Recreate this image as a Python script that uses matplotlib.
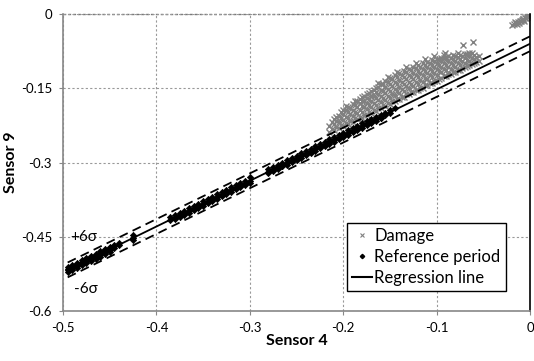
import matplotlib.pyplot as plt
from matplotlib.lines import Line2D

plt.rcParams['font.family'] = ['Lato', 'DejaVu Sans']

# damage points, read column by column (x, list of y)
dmg_cols_x = [-0.215, -0.21, -0.205, -0.20, -0.195, -0.19, -0.185, -0.18, -0.175, -0.17,
              -0.165, -0.16, -0.155, -0.15, -0.145, -0.14, -0.135, -0.13, -0.125, -0.12,
              -0.115, -0.11, -0.105, -0.10, -0.095, -0.09, -0.085, -0.08, -0.075, -0.07,
              -0.065, -0.06, -0.055,
              -0.2125, -0.2075, -0.2025, -0.1975, -0.1925, -0.1875, -0.1825, -0.1775, -0.1725,
              -0.1675, -0.1625, -0.1575, -0.1525, -0.1475, -0.1425, -0.1375, -0.1325, -0.1275,
              -0.1225, -0.1175, -0.1125, -0.1075, -0.1025, -0.0975, -0.0925, -0.0875, -0.0825,
              -0.0775, -0.0725, -0.0675, -0.0625, -0.0575]
dmg_cols_y = [
    [-0.238, -0.226],
    [-0.235, -0.222, -0.212],
    [-0.231, -0.219, -0.205],
    [-0.226, -0.214, -0.201, -0.193],
    [-0.222, -0.210, -0.197, -0.187],
    [-0.218, -0.206, -0.194, -0.182],
    [-0.213, -0.200, -0.188, -0.176],
    [-0.209, -0.198, -0.185, -0.175, -0.168],
    [-0.204, -0.192, -0.180, -0.170, -0.162],
    [-0.199, -0.188, -0.176, -0.165, -0.156],
    [-0.195, -0.183, -0.170, -0.158, -0.149],
    [-0.190, -0.178, -0.166, -0.153, -0.142],
    [-0.186, -0.173, -0.160, -0.147, -0.136],
    [-0.181, -0.169, -0.156, -0.142, -0.130],
    [-0.176, -0.164, -0.151, -0.138, -0.124],
    [-0.171, -0.160, -0.147, -0.133, -0.120],
    [-0.167, -0.155, -0.142, -0.128, -0.115],
    [-0.162, -0.150, -0.137, -0.123, -0.110],
    [-0.158, -0.146, -0.132, -0.119, -0.106],
    [-0.153, -0.141, -0.128, -0.115, -0.103],
    [-0.149, -0.137, -0.124, -0.111, -0.099],
    [-0.144, -0.132, -0.120, -0.107, -0.096],
    [-0.139, -0.127, -0.115, -0.103, -0.093],
    [-0.135, -0.123, -0.111, -0.099, -0.090],
    [-0.130, -0.118, -0.106, -0.095, -0.088],
    [-0.126, -0.114, -0.102, -0.091, -0.086],
    [-0.121, -0.110, -0.099, -0.088],
    [-0.117, -0.106, -0.095, -0.085],
    [-0.112, -0.102, -0.091, -0.082],
    [-0.107, -0.098, -0.088, -0.080],
    [-0.103, -0.094, -0.085, -0.078],
    [-0.098, -0.090, -0.082],
    [-0.094, -0.084],
    [-0.232, -0.219],
    [-0.228, -0.216, -0.207],
    [-0.224, -0.210, -0.198],
    [-0.220, -0.207, -0.194, -0.185],
    [-0.216, -0.201, -0.189],
    [-0.211, -0.197, -0.183, -0.175],
    [-0.207, -0.193, -0.180, -0.171],
    [-0.203, -0.188, -0.176, -0.165],
    [-0.198, -0.184, -0.171, -0.160],
    [-0.194, -0.180, -0.166, -0.153],
    [-0.189, -0.174, -0.161, -0.148, -0.140],
    [-0.184, -0.170, -0.156, -0.141],
    [-0.180, -0.165, -0.151, -0.137, -0.128],
    [-0.176, -0.161, -0.146, -0.132],
    [-0.171, -0.156, -0.142, -0.127, -0.117],
    [-0.167, -0.151, -0.137, -0.123],
    [-0.162, -0.146, -0.132, -0.118, -0.106],
    [-0.158, -0.142, -0.128, -0.113],
    [-0.153, -0.138, -0.123, -0.109, -0.098],
    [-0.149, -0.133, -0.119, -0.106],
    [-0.144, -0.129, -0.115, -0.102, -0.091],
    [-0.140, -0.124, -0.110, -0.098],
    [-0.135, -0.120, -0.106, -0.094, -0.085],
    [-0.131, -0.116, -0.102, -0.091],
    [-0.126, -0.111, -0.098, -0.088, -0.082],
    [-0.122, -0.107, -0.094, -0.084],
    [-0.117, -0.103, -0.091, -0.082],
    [-0.113, -0.099, -0.087, -0.079],
    [-0.108, -0.095, -0.084],
    [-0.104, -0.092, -0.081],
    [-0.100, -0.088, -0.079],
    [-0.096, -0.087],
]
# outliers and the cluster close to the origin
dmg_extra_x = [-0.072, -0.061, -0.091, -0.019, -0.017, -0.016, -0.015, -0.014, -0.013, -0.012,
               -0.011, -0.010, -0.009, -0.008, -0.007, -0.006, -0.005, -0.004, -0.003, -0.003,
               -0.002, -0.001, 0.0]
dmg_extra_y = [-0.063, -0.057, -0.079, -0.023, -0.020, -0.017, -0.019, -0.021, -0.016, -0.018,
               -0.013, -0.014, -0.012, -0.009, -0.010, -0.013, -0.008, -0.007, -0.006, -0.002,
               -0.004, -0.003, -0.002]

# reference period points
ref_cols_x = [-0.495, -0.49, -0.485, -0.48, -0.475, -0.47, -0.465, -0.46, -0.455, -0.45,
              -0.445, -0.44, -0.425, -0.385, -0.38, -0.375, -0.37, -0.365, -0.36, -0.355,
              -0.35, -0.345, -0.34, -0.335, -0.33, -0.325, -0.32, -0.315, -0.31, -0.305,
              -0.30, -0.28, -0.275, -0.27, -0.265, -0.26, -0.255, -0.25, -0.245, -0.24,
              -0.235, -0.23, -0.225, -0.22, -0.215, -0.21, -0.205, -0.20, -0.195, -0.19,
              -0.185, -0.18, -0.175, -0.17, -0.165, -0.16, -0.155, -0.15, -0.145]
ref_cols_y = [
    [-0.512, -0.518, -0.522, -0.515],
    [-0.507, -0.513, -0.517, -0.510],
    [-0.503, -0.509, -0.513, -0.505],
    [-0.497, -0.503, -0.508, -0.500],
    [-0.492, -0.499, -0.503, -0.495],
    [-0.489, -0.495, -0.499, -0.491],
    [-0.484, -0.490, -0.494, -0.487],
    [-0.479, -0.486, -0.490, -0.482],
    [-0.475, -0.481, -0.485, -0.477],
    [-0.470, -0.476, -0.480, -0.473],
    [-0.466, -0.472, -0.468],
    [-0.462, -0.467],
    [-0.446, -0.452, -0.457],
    [-0.411, -0.416],
    [-0.406, -0.412, -0.415],
    [-0.401, -0.407, -0.410],
    [-0.397, -0.403, -0.405],
    [-0.392, -0.398, -0.401],
    [-0.387, -0.393, -0.396],
    [-0.383, -0.389, -0.391],
    [-0.378, -0.384, -0.387],
    [-0.373, -0.379, -0.382],
    [-0.369, -0.375, -0.377],
    [-0.364, -0.370, -0.373],
    [-0.360, -0.366, -0.368],
    [-0.355, -0.361, -0.364],
    [-0.350, -0.356, -0.359],
    [-0.346, -0.352, -0.354],
    [-0.341, -0.347, -0.350],
    [-0.337, -0.343, -0.345],
    [-0.330, -0.338, -0.341],
    [-0.313, -0.319, -0.322],
    [-0.309, -0.315, -0.318],
    [-0.304, -0.310, -0.313],
    [-0.300, -0.306, -0.308],
    [-0.295, -0.301, -0.304],
    [-0.290, -0.296, -0.299],
    [-0.286, -0.292, -0.294],
    [-0.281, -0.287, -0.290],
    [-0.277, -0.283, -0.285],
    [-0.272, -0.278, -0.281],
    [-0.267, -0.273, -0.276],
    [-0.263, -0.269, -0.271],
    [-0.258, -0.264, -0.267],
    [-0.253, -0.259, -0.262],
    [-0.249, -0.255, -0.258],
    [-0.244, -0.250, -0.253],
    [-0.240, -0.246, -0.248],
    [-0.235, -0.241, -0.244],
    [-0.230, -0.236, -0.239],
    [-0.226, -0.232, -0.234],
    [-0.221, -0.227, -0.230],
    [-0.217, -0.223, -0.225],
    [-0.212, -0.218, -0.221],
    [-0.207, -0.213, -0.216],
    [-0.203, -0.209, -0.211],
    [-0.199, -0.204],
    [-0.194, -0.199],
    [-0.190],
]

# regression line and +/- 6 sigma bounds
reg_x = [-0.495, 0.0]
reg_y = [-0.517, -0.060]
upper_y = [-0.502, -0.045]
lower_y = [-0.532, -0.075]

xticks = [-0.5, -0.4, -0.3, -0.2, -0.1, 0]
xticklabels = ['-0.5', '-0.4', '-0.3', '-0.2', '-0.1', '0']
yticks = [-0.6, -0.45, -0.3, -0.15, 0]
yticklabels = ['-0.6', '-0.45', '-0.3', '-0.15', '0']

dmg_x, dmg_y = [], []
for x, ys in zip(dmg_cols_x, dmg_cols_y):
    for y in ys:
        dmg_x.append(x)
        dmg_y.append(y)
dmg_x += dmg_extra_x
dmg_y += dmg_extra_y

ref_x, ref_y = [], []
for x, ys in zip(ref_cols_x, ref_cols_y):
    for y in ys:
        ref_x.append(x)
        ref_y.append(y)

fig = plt.figure(figsize=(5.34, 3.61), dpi=100)
ax = fig.add_axes([0.118, 0.1385, 0.8745, 0.8225])

ax.plot(dmg_x, dmg_y, linestyle='none', marker='x', color='#808080',
        markersize=4.5, markeredgewidth=1.0)
ax.plot(ref_x, ref_y, linestyle='none', marker='D', color='black',
        markersize=3.2, markeredgewidth=0.5)
ax.plot(reg_x, reg_y, color='black', linewidth=1.3)
ax.plot(reg_x, upper_y, color='black', linewidth=1.3, dashes=(5, 3))
ax.plot(reg_x, lower_y, color='black', linewidth=1.3, dashes=(5, 3))

ax.text(-0.492, -0.45, '+6σ', fontsize=11, va='center', ha='left')
ax.text(-0.488, -0.556, '-6σ', fontsize=11, va='center', ha='left')

ax.set_xlim(-0.5, 0)
ax.set_ylim(-0.6, 0)
ax.set_xticks(xticks)
ax.set_xticklabels(xticklabels)
ax.set_yticks(yticks)
ax.set_yticklabels(yticklabels)
ax.tick_params(labelsize=9.5, length=3, color='#888888', pad=5)
ax.grid(True, color='#999999', linestyle=(0, (2, 2)), linewidth=0.8)
ax.set_axisbelow(True)
ax.axhline(0, color='#777777', linestyle=(0, (2, 1.5)), linewidth=1.0, clip_on=False, zorder=0)

ax.spines['left'].set_color('#888888')
ax.spines['left'].set_linewidth(1.2)
ax.spines['bottom'].set_color('#888888')
ax.spines['bottom'].set_linewidth(1.2)
ax.spines['top'].set_visible(False)
ax.spines['right'].set_color('black')
ax.spines['right'].set_linewidth(1.2)

ax.set_xlabel('Sensor 4', fontsize=11.5, fontweight='bold', labelpad=0)
ax.set_ylabel('Sensor 9', fontsize=11.5, fontweight='bold', labelpad=2)

handles = [
    Line2D([], [], linestyle='none', marker='x', color='#808080', markersize=3.5, markeredgewidth=0.8),
    Line2D([], [], linestyle='none', marker='D', color='black', markersize=2.2),
    Line2D([], [], color='black', linewidth=1.5),
]
labels = ['Damage', 'Reference period', 'Regression line']
leg = ax.legend(handles, labels, loc='upper left', bbox_to_anchor=(0.608, 0.296),
                fontsize=12, frameon=True, fancybox=False, edgecolor='black', framealpha=1,
                handlelength=1.2, handletextpad=0.15, borderpad=0.3, labelspacing=0.3,
                borderaxespad=0)
leg.get_frame().set_linewidth(1.0)

fig.savefig('out.png', dpi=100)
